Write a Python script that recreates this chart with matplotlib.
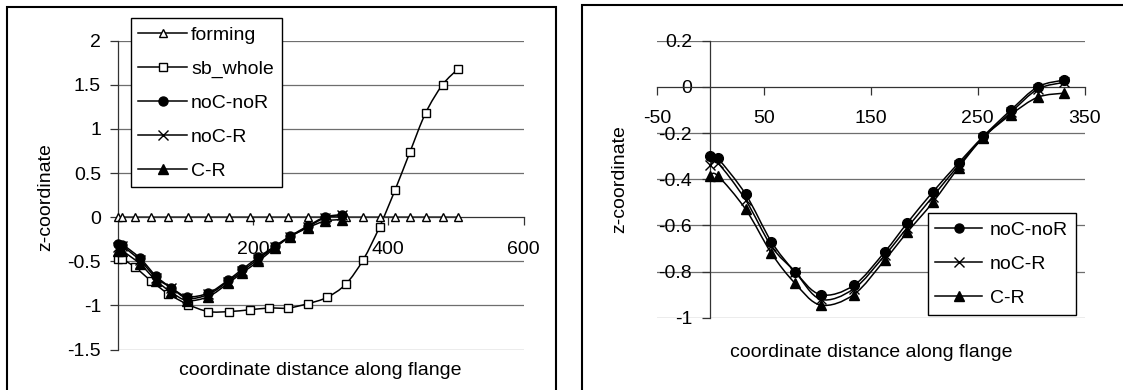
import numpy as np
import matplotlib
matplotlib.use('Agg')
from matplotlib import pyplot as plt
from matplotlib.path import Path
from matplotlib.patches import PathPatch, Rectangle
from matplotlib.lines import Line2D

plt.rcParams['font.family'] = ['Liberation Sans', 'DejaVu Sans']
plt.rcParams['axes.unicode_minus'] = False

# forming / sb_whole share the station positions along the flange
x_long = [0, 6, 26, 49, 75, 104, 134, 165, 195, 224, 252, 281, 309, 337, 363, 387, 410, 432, 455, 480, 503]
forming = [0, 0, 0, 0, 0, 0, 0, 0, 0, 0, 0, 0, 0, 0, 0, 0, 0, 0, 0, 0, 0]
sb_whole = [-0.47, -0.47, -0.57, -0.72, -0.87, -0.99, -1.07, -1.07, -1.05, -1.03, -1.03,
            -0.98, -0.91, -0.76, -0.48, -0.11, 0.31, 0.74, 1.18, 1.50, 1.68]

x_short = [0, 7, 33, 57, 79, 103, 134, 163, 184, 208, 232, 255, 281, 306, 331]
noC_noR = [-0.30, -0.31, -0.465, -0.67, -0.80, -0.90, -0.86, -0.715, -0.59, -0.455, -0.33, -0.215, -0.10, 0.0, 0.03]
noC_R = [-0.34, -0.33, -0.49, -0.69, -0.80, -0.92, -0.875, -0.73, -0.61, -0.475, -0.34, -0.22, -0.11, -0.01, 0.02]
C_R = [-0.385, -0.385, -0.53, -0.72, -0.85, -0.945, -0.90, -0.75, -0.63, -0.50, -0.35, -0.22, -0.12, -0.045, -0.027]

W, H = 1123, 390
FS = 14
GRID = '#6e6e6e'
AXC = '#333333'


def smooth_path(x, y):
    # excel-style smoothed line: catmull-rom segments as cubic beziers
    x = np.asarray(x, float)
    y = np.asarray(y, float)
    n = len(x)
    verts = [(x[0], y[0])]
    codes = [Path.MOVETO]
    for i in range(n - 1):
        a = i - 1 if i > 0 else i
        d = i + 2 if i + 2 < n else i + 1
        c1 = (x[i] + (x[i + 1] - x[a]) / 6, y[i] + (y[i + 1] - y[a]) / 6)
        c2 = (x[i + 1] - (x[d] - x[i]) / 6, y[i + 1] - (y[d] - y[i]) / 6)
        verts += [c1, c2, (x[i + 1], y[i + 1])]
        codes += [Path.CURVE4] * 3
    return Path(verts, codes)


def px_axes(fig, left, top, right, bottom):
    return fig.add_axes([left / W, 1 - bottom / H, (right - left) / W, (bottom - top) / H])


def style_axes(ax, xticks, yticks, ylim, xlim):
    ax.set_xlim(*xlim)
    ax.set_ylim(*ylim)
    for s in ['top', 'right']:
        ax.spines[s].set_visible(False)
    ax.spines['left'].set_position(('data', 0))
    ax.spines['bottom'].set_position(('data', 0))
    ax.spines['left'].set_color(AXC)
    ax.spines['bottom'].set_color(AXC)
    ax.spines['left'].set_linewidth(0.9)
    ax.spines['bottom'].set_linewidth(0.9)
    ax.set_xticks(xticks)
    ax.set_xticklabels([f'{v:g}' for v in xticks])
    ax.set_yticks(yticks)
    ax.set_yticklabels([f'{v:g}' for v in yticks])
    ax.tick_params(axis='x', direction='out', length=6, width=0.9, color=AXC, pad=11, labelsize=FS)
    ax.tick_params(axis='y', direction='out', length=6, width=0.9, color=AXC, pad=6, labelsize=FS)
    for v in yticks:
        if v != 0:
            ax.axhline(v, color=GRID, lw=0.9, zorder=0.5)
    ax.patch.set_visible(False)


def draw_series(ax, x, y, marker, ms, filled):
    ax.add_patch(PathPatch(smooth_path(x, y), facecolor='none', edgecolor='black', lw=1.1, zorder=2))
    ax.plot(x, y, ls='none', marker=marker, ms=ms, mec='black',
            mfc='black' if filled else 'white', mew=1.0, zorder=3, clip_on=False)


def handle(marker, ms, filled):
    return Line2D([], [], color='black', lw=1.1, marker=marker, ms=ms, mec='black',
                  mfc='black' if filled else 'white', mew=1.0)


fig = plt.figure(figsize=(W / 100, H / 100), dpi=100)

# panel frames
fig.add_artist(Rectangle((6.7 / W, -0.1), (555.7 - 6.7) / W, 1.1 - 6.7 / H,
                         transform=fig.transFigure, fill=False, ec='black', lw=1.5))
fig.add_artist(Rectangle((582.3 / W, -0.1), 0.6, 1.1 - 5.3 / H,
                         transform=fig.transFigure, fill=False, ec='black', lw=1.5))

# left panel
ax1 = px_axes(fig, 117.7, 40.7, 523.7, 349.5)
style_axes(ax1, [200, 400, 600], [-1.5, -1, -0.5, 0, 0.5, 1, 1.5, 2], (-1.5, 2), (0, 600))
draw_series(ax1, x_long, forming, '^', 6, False)
draw_series(ax1, x_long, sb_whole, 's', 5.5, False)
draw_series(ax1, x_short, noC_noR, 'o', 6.5, True)
draw_series(ax1, x_short, noC_R, 'x', 6.5, False)
draw_series(ax1, x_short, C_R, '^', 7, True)
ax1.set_xlabel('coordinate distance along flange', fontsize=FS, va='center')
ax1.xaxis.set_label_coords(0.5, -0.0696)
ax1.set_ylabel('z-coordinate', fontsize=FS, va='center', ha='center')
ax1.yaxis.set_label_coords(-0.1766, 0.494)

hl = [handle('^', 6, False), handle('s', 5.5, False), handle('o', 6.5, True),
      handle('x', 6.5, False), handle('^', 7, True)]
leg1 = ax1.legend(hl, ['forming', 'sb_whole', 'noC-noR', 'noC-R', 'C-R'],
                  loc='upper left', bbox_to_anchor=(130.7 / W, 1 - 18.3 / H),
                  bbox_transform=fig.transFigure, borderaxespad=0, fontsize=FS,
                  handlelength=2.5, handletextpad=0.2, labelspacing=0.84,
                  fancybox=False, framealpha=1, edgecolor='black', borderpad=0.4)
leg1.get_frame().set_linewidth(1.0)

# right panel
ax2 = px_axes(fig, 656.8, 40.7, 1084.8, 317.7)
style_axes(ax2, [-50, 50, 150, 250, 350], [-1, -0.8, -0.6, -0.4, -0.2, 0, 0.2], (-1, 0.2), (-50, 350))
ax2.tick_params(axis='y', pad=7)
draw_series(ax2, x_short, noC_noR, 'o', 7, True)
draw_series(ax2, x_short, noC_R, 'x', 7.5, False)
draw_series(ax2, x_short, C_R, '^', 7.5, True)
ax2.set_xlabel('coordinate distance along flange', fontsize=FS, va='center')
ax2.xaxis.set_label_coords(0.5, -0.124)
ax2.set_ylabel('z-coordinate', fontsize=FS, va='center', ha='center')
ax2.yaxis.set_label_coords(-0.086, 0.5)

hr = [handle('o', 6.5, True), handle('x', 6.5, False), handle('^', 7, True)]
leg2 = ax2.legend(hr, ['noC-noR', 'noC-R', 'C-R'],
                  loc='upper left', bbox_to_anchor=(927.7 / W, 1 - 213.3 / H),
                  bbox_transform=fig.transFigure, borderaxespad=0, fontsize=FS,
                  handlelength=2.4, handletextpad=0.4, labelspacing=0.85,
                  fancybox=False, framealpha=1, edgecolor='black', borderpad=0.4)
leg2.get_frame().set_linewidth(1.0)

fig.savefig('out.png', dpi=100)
